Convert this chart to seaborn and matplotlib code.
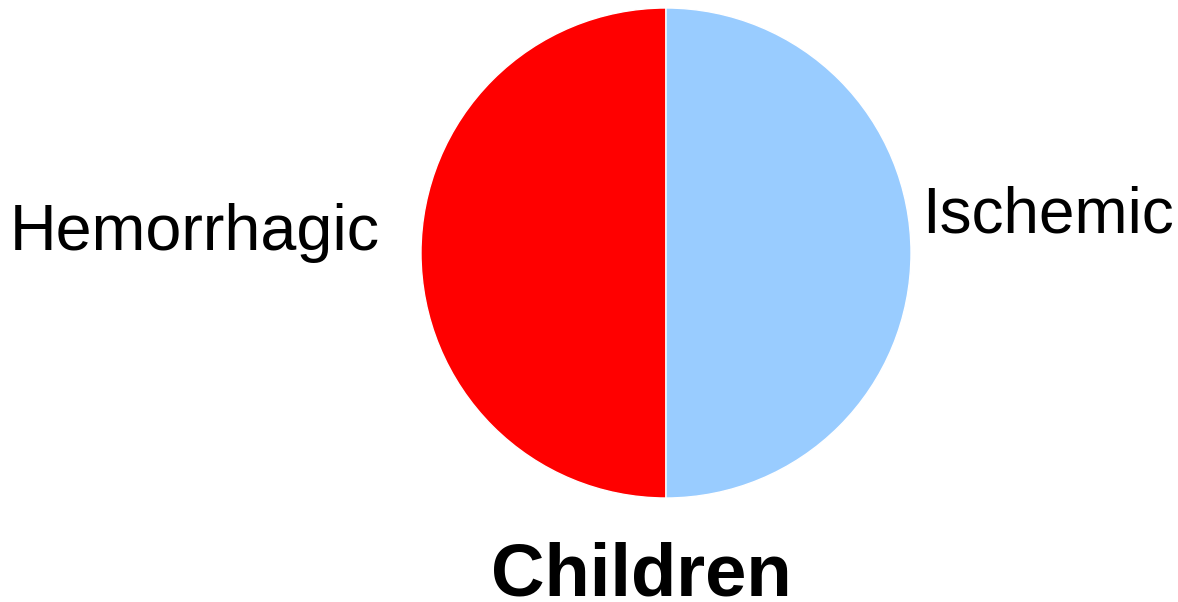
import matplotlib
matplotlib.use("Agg")
import matplotlib.pyplot as plt
import seaborn as sns

# Stroke type share among children
categories = ["Hemorrhagic", "Ischemic"]
shares = [50, 50]
colors = ["#FF0000", "#99CCFF"]
title = "Children"

sns.set_theme(style="white")
plt.rcParams["font.family"] = ["Liberation Sans", "DejaVu Sans"]

W, H = 1178, 602
fig = plt.figure(figsize=(W / 100, H / 100), dpi=100)
fig.patch.set_facecolor("white")

cx, cy, r = 666, 253, 245
ax = fig.add_axes([(cx - r) / W, (H - cy - r) / H, 2 * r / W, 2 * r / H])
ax.pie(shares, colors=colors, startangle=90, counterclock=True, radius=1,
       wedgeprops=dict(edgecolor="white", linewidth=1))
ax.set_xlim(-1, 1)
ax.set_ylim(-1, 1)
ax.axis("off")

fig.text(195 / W, 1 - 250 / H, categories[0], ha="center", va="baseline", fontsize=46.5, color="black")
fig.text(1048 / W, 1 - 233 / H, categories[1], ha="center", va="baseline", fontsize=46, color="black")
fig.text(641 / W, 1 - 596 / H, title, ha="center", va="baseline", fontsize=53.5,
         fontweight="bold", color="black")

fig.savefig("out.png", dpi=100, facecolor="white")
